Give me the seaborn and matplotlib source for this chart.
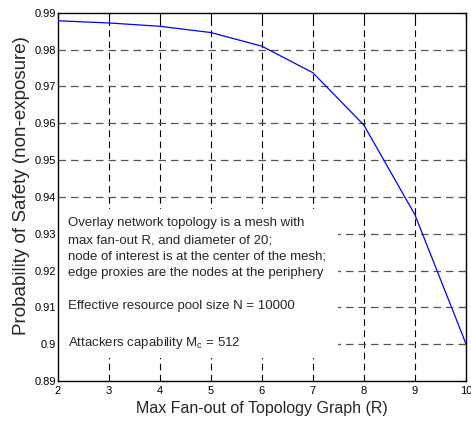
import matplotlib
matplotlib.use("Agg")
import matplotlib.pyplot as plt
from matplotlib.patches import Rectangle
import seaborn as sns
import pandas as pd

# ---- data ----
fan_out = [2, 3, 4, 5, 6, 7, 8, 9, 10]
p_safety = [0.9878, 0.9872, 0.9863, 0.9846, 0.9809, 0.9737, 0.9595, 0.9352, 0.9002]

x_ticks = [2, 3, 4, 5, 6, 7, 8, 9, 10]
y_ticks = [0.89, 0.9, 0.91, 0.92, 0.93, 0.94, 0.95, 0.96, 0.97, 0.98, 0.99]
y_tick_labels = ["0.89", "0.9", "0.91", "0.92", "0.93", "0.94", "0.95", "0.96", "0.97", "0.98", "0.99"]

note = ("Overlay network topology is a mesh with\n"
        "max fan-out R, and diameter of 20;\n"
        "node of interest is at the center of the mesh;\n"
        "edge proxies are the nodes at the periphery\n"
        "\n"
        "Effective resource pool size N = 10000\n"
        "\n"
        "Attackers capability M$_\\mathrm{c}$ = 512")

df = pd.DataFrame({"R": fan_out, "P": p_safety})

sns.set_style("white")
plt.rcParams['font.family'] = ['Liberation Sans', 'DejaVu Sans']
plt.rcParams['mathtext.fontset'] = 'custom'
plt.rcParams['mathtext.rm'] = 'Liberation Sans'
plt.rcParams['mathtext.it'] = 'Liberation Sans'

fig = plt.figure(figsize=(4.71, 4.22), dpi=100)
ax = fig.add_axes([0.123, 0.097, 0.866, 0.873])

# grid: vertical black, horizontal grey, both dashed
for xv in x_ticks[1:-1]:
    ax.axvline(xv, color="black", lw=0.8, ls=(0, (6, 4)), zorder=1)
for yv in y_ticks[1:-1]:
    ax.axhline(yv, color="#555555", lw=0.9, ls=(0, (6, 4)), zorder=1)

# white panel behind the annotation hides the grid there
ax.add_patch(Rectangle((0, 0.0625), 0.686, 0.405, transform=ax.transAxes,
                       facecolor="white", edgecolor="none", zorder=1.5))

sns.lineplot(data=df, x="R", y="P", color="blue", lw=0.9, ax=ax, zorder=3)

ax.text(0.025, 0.444, note, transform=ax.transAxes, fontsize=9.5, va="top", ha="left",
        linespacing=1.51, zorder=2)

ax.set_xlim(2, 10)
ax.set_ylim(0.89, 0.99)
ax.set_xticks(x_ticks)
ax.set_yticks(y_ticks)
ax.set_yticklabels(y_tick_labels)
ax.tick_params(direction="in", length=4, width=0.8, labelsize=8, top=True, right=True,
               colors="black")
ax.tick_params(axis="y", pad=1.5)
for s in ax.spines.values():
    s.set_color("black")
    s.set_linewidth(1.0)

ax.set_xlabel("Max Fan-out of Topology Graph (R)", fontsize=11.5, labelpad=4)
ax.set_ylabel("Probability of Safety (non-exposure)", fontsize=13.5)
ax.yaxis.set_label_coords(-0.069, 0.53)

fig.savefig("out.png", dpi=100)
